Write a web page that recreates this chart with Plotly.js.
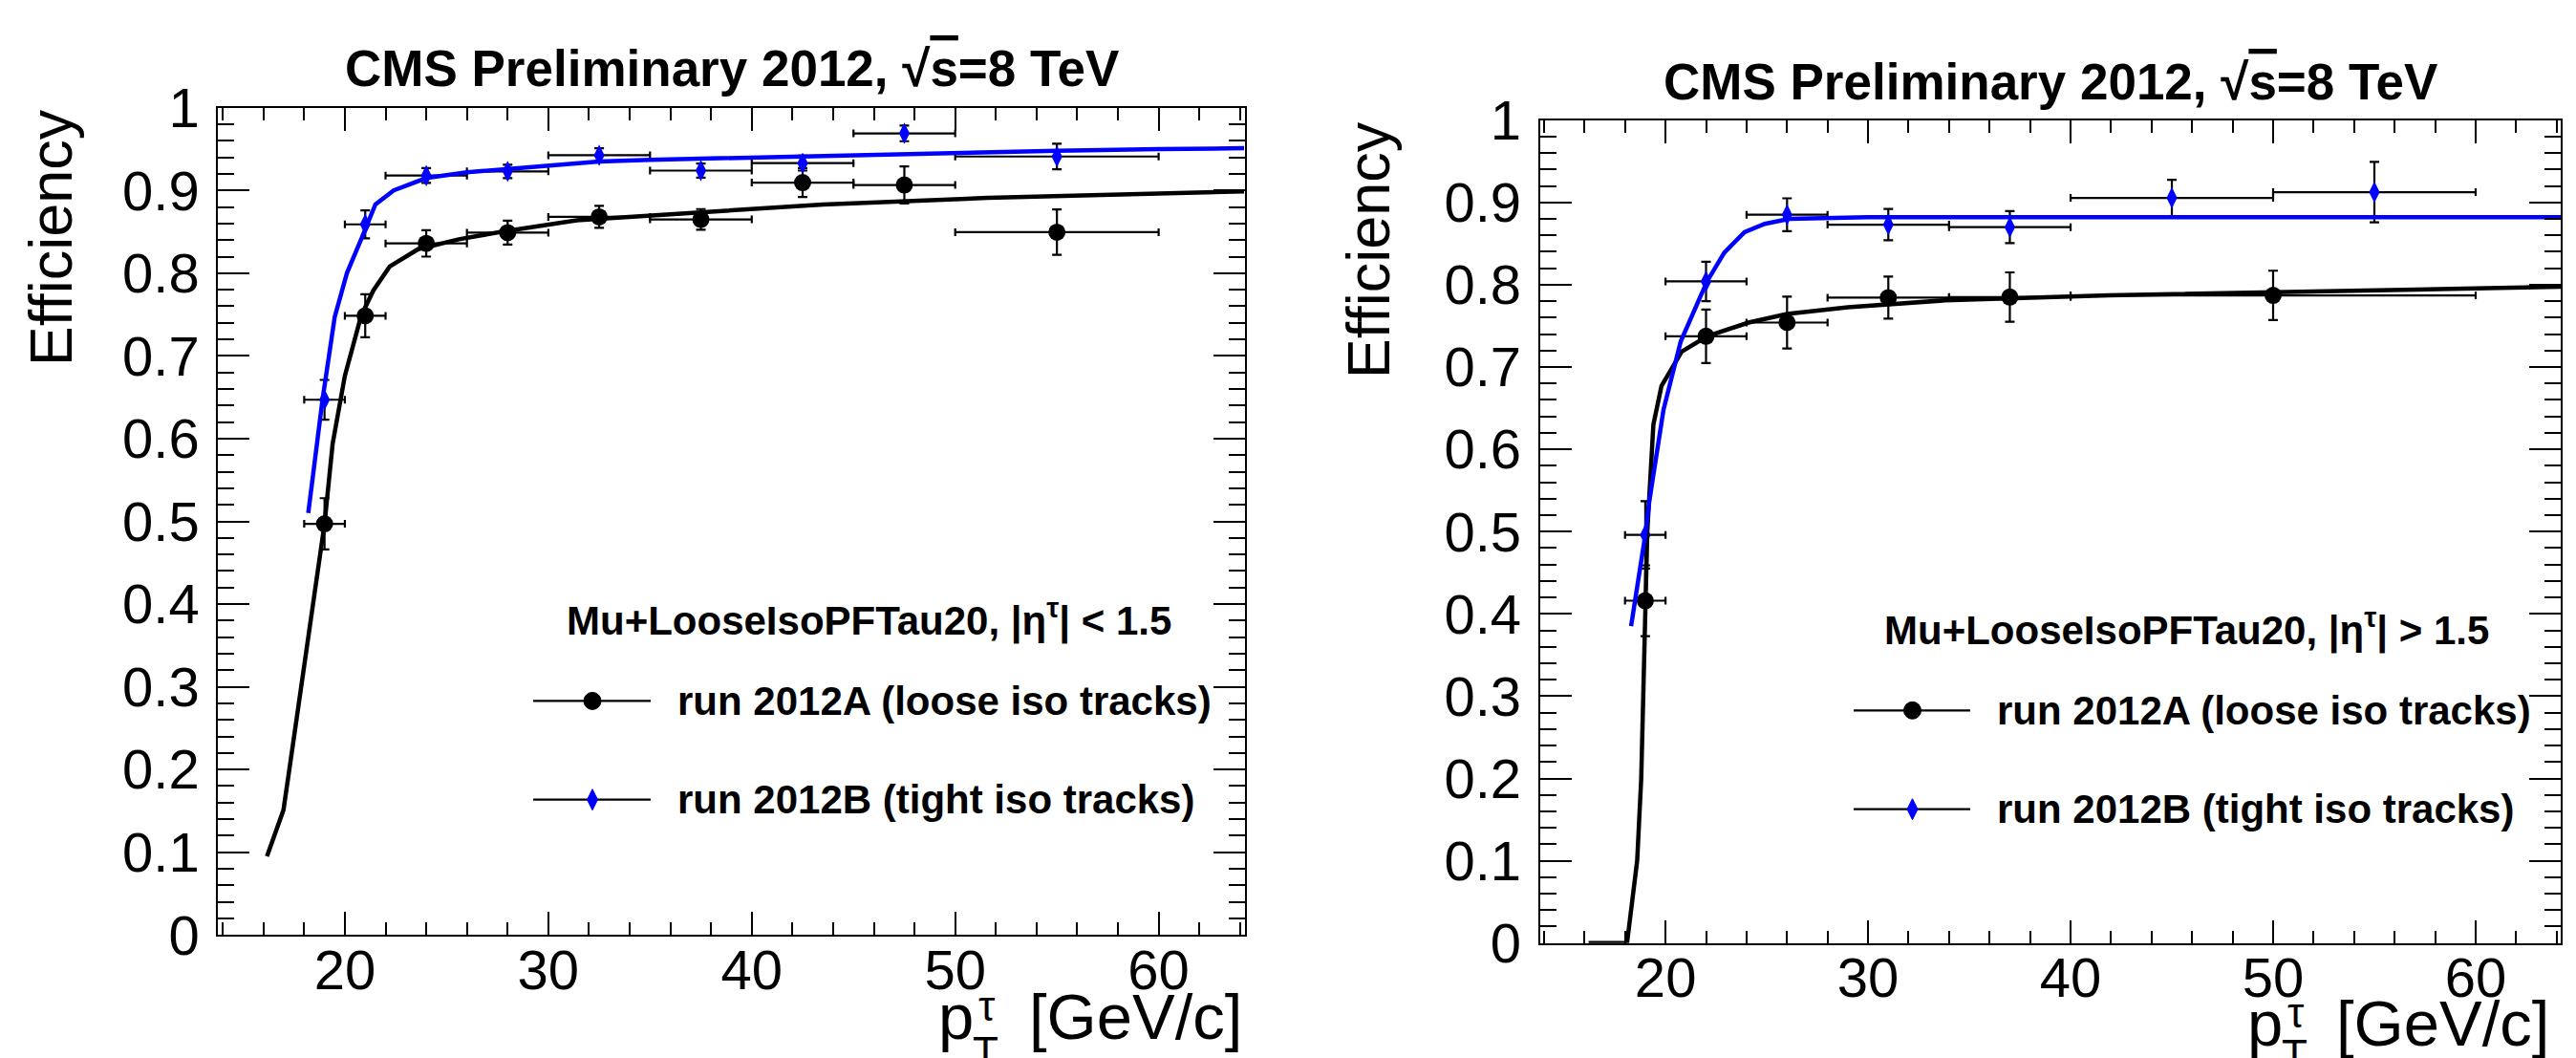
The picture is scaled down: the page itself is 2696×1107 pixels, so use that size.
<!DOCTYPE html>
<html>
<head>
<meta charset="utf-8">
<script src="https://cdn.plot.ly/plotly-3.0.1.min.js"></script>
<style>html,body{margin:0;padding:0;background:#fff;}#plot{width:2696px;height:1107px;}</style>
</head>
<body>
<div id="plot"></div>
<script>
// ---------------- DATA ----------------
// Left panel: |eta| < 1.5
const leftAx = [19, 21, 24, 28, 32.5, 37.5, 42.5, 47.5, 55];
const leftAlo = [18, 20, 22, 26, 30, 35, 40, 45, 50];
const leftAhi = [20, 22, 26, 30, 35, 40, 45, 50, 60];
const leftAeff = [0.497, 0.7485, 0.836, 0.849, 0.868, 0.865, 0.9095, 0.9066, 0.8496];
const leftAerr = [0.031, 0.026, 0.016, 0.0145, 0.0133, 0.0125, 0.0175, 0.0225, 0.0275];

const leftBx = [19, 21, 24, 28, 32.5, 37.5, 42.5, 47.5, 55];
const leftBlo = [18, 20, 22, 26, 30, 35, 40, 45, 50];
const leftBhi = [20, 22, 26, 30, 35, 40, 45, 50, 60];
const leftBeff = [0.647, 0.859, 0.918, 0.923, 0.9425, 0.924, 0.933, 0.969, 0.941];
const leftBerr = [0.024, 0.017, 0.009, 0.008, 0.0085, 0.0085, 0.009, 0.0095, 0.0155];

const leftAfitX = [16.17, 16.98, 17.27, 17.85, 18.44, 19.0, 19.4, 20.0, 20.8, 21.4, 22.2, 23.6, 25.6, 27.7, 31.4, 37.4, 43.5, 51.6, 64.2];
const leftAfitY = [0.095, 0.151, 0.20, 0.30, 0.40, 0.497, 0.594, 0.676, 0.7485, 0.779, 0.808, 0.829, 0.841, 0.85, 0.864, 0.874, 0.883, 0.891, 0.899];
const leftBfitX = [18.2, 18.9, 19.5, 20.1, 20.8, 21.5, 22.4, 24, 26, 28, 30, 32.5, 35, 40, 45, 50, 55, 60, 64.2];
const leftBfitY = [0.51, 0.647, 0.747, 0.80, 0.841, 0.883, 0.90, 0.915, 0.922, 0.926, 0.930, 0.935, 0.937, 0.940, 0.943, 0.946, 0.948, 0.950, 0.951];

// Right panel: |eta| > 1.5
const rightAx = [19, 22, 26, 31, 37, 50];
const rightAlo = [18, 20, 24, 28, 34, 40];
const rightAhi = [20, 24, 28, 34, 40, 60];
const rightAeff = [0.416, 0.7374, 0.754, 0.7843, 0.785, 0.787];
const rightAerr = [0.043, 0.0325, 0.0315, 0.0255, 0.030, 0.030];

const rightBx = [19, 22, 26, 31, 37, 45, 55];
const rightBlo = [18, 20, 24, 28, 34, 40, 50];
const rightBhi = [20, 24, 28, 34, 40, 50, 60];
const rightBeff = [0.496, 0.804, 0.885, 0.873, 0.870, 0.9055, 0.9125];
const rightBerr = [0.041, 0.024, 0.020, 0.019, 0.0195, 0.022, 0.0367];

const rightAfitX = [16.2, 18.1, 18.6, 18.8, 18.9, 19.0, 19.1, 19.4, 19.8, 20.8, 22.05, 24.1, 26, 29, 33.8, 41.9, 50.1, 64.2];
const rightAfitY = [0, 0, 0.1, 0.2, 0.3, 0.42, 0.5, 0.63, 0.677, 0.7187, 0.7374, 0.754, 0.7644, 0.7727, 0.781, 0.787, 0.7913, 0.7976];
const rightBfitX = [18.3, 19.0, 19.2, 19.9, 20.75, 22.05, 22.9, 23.9, 24.9, 26.1, 30, 40, 50, 64.2];
const rightBfitY = [0.385, 0.496, 0.537, 0.648, 0.731, 0.804, 0.839, 0.864, 0.874, 0.880, 0.882, 0.882, 0.882, 0.882];

const titleText = 'CMS Preliminary 2012, √<span style="text-decoration:overline">s</span>=8 TeV';
const yTitleText = 'Efficiency';
const legendHeaders = ['Mu+LooseIsoPFTau20, |η<sup>τ</sup>| &lt; 1.5', 'Mu+LooseIsoPFTau20, |η<sup>τ</sup>| &gt; 1.5'];
const seriesNames = ['run 2012A (loose iso tracks)', 'run 2012B (tight iso tracks)'];

// ---------------- STYLE ----------------
const W = 2696, H = 1107;
const FONT = 'Liberation Sans, Arial, Helvetica, sans-serif';
const BLUE = '#0000ff';
const px = v => v / W;
const py = v => 1 - v / H;

function errTrace(x, lo, hi, eff, err, isB, xa, ya) {
  return {
    x: x, y: eff, xaxis: xa, yaxis: ya, type: 'scatter', mode: 'markers',
    showlegend: false, hoverinfo: 'x+y',
    marker: isB ? {symbol: 'diamond-tall', size: 16, color: BLUE} : {symbol: 'circle', size: 18, color: '#000'},
    error_y: {type: 'data', array: err, color: '#000', thickness: 2.2, width: 5},
    error_x: {type: 'data', symmetric: false, array: hi.map((h, i) => h - x[i]), arrayminus: lo.map((l, i) => x[i] - l), color: '#000', thickness: 2.2, width: 4}
  };
}
function fitTrace(x, y, isB, xa, ya) {
  return {x: x, y: y, xaxis: xa, yaxis: ya, type: 'scatter', mode: 'lines', showlegend: false, hoverinfo: 'skip',
    line: {color: isB ? BLUE : '#000', width: 4.5}};
}
const data = [
  errTrace(leftAx, leftAlo, leftAhi, leftAeff, leftAerr, false, 'x', 'y'),
  errTrace(leftBx, leftBlo, leftBhi, leftBeff, leftBerr, true, 'x', 'y'),
  fitTrace(leftAfitX, leftAfitY, false, 'x', 'y'),
  fitTrace(leftBfitX, leftBfitY, true, 'x', 'y'),
  errTrace(rightAx, rightAlo, rightAhi, rightAeff, rightAerr, false, 'x2', 'y2'),
  errTrace(rightBx, rightBlo, rightBhi, rightBeff, rightBerr, true, 'x2', 'y2'),
  fitTrace(rightAfitX, rightAfitY, false, 'x2', 'y2'),
  fitTrace(rightBfitX, rightBfitY, true, 'x2', 'y2')
];

function xAxis(domain, range, anchor) {
  return {domain: domain, range: range, anchor: anchor, tick0: 0, dtick: 10,
    ticks: 'inside', ticklen: 24, tickwidth: 2, tickcolor: '#000',
    minor: {tick0: 0, dtick: 2, ticks: 'inside', ticklen: 13, tickwidth: 2, tickcolor: '#000', showgrid: false},
    showline: true, linewidth: 2, linecolor: '#000', mirror: 'allticks',
    showgrid: false, zeroline: false, ticklabelstandoff: -15,
    tickfont: {family: FONT, size: 58, color: '#000'}, fixedrange: true};
}
function yAxis(domain, anchor) {
  return {domain: domain, range: [0, 1], anchor: anchor, tick0: 0, dtick: 0.1,
    ticks: 'inside', ticklen: 33, tickwidth: 2, tickcolor: '#000',
    minor: {tick0: 0, dtick: 0.02, ticks: 'inside', ticklen: 17, tickwidth: 2, tickcolor: '#000', showgrid: false},
    showline: true, linewidth: 2, linecolor: '#000', mirror: 'allticks',
    showgrid: false, zeroline: false, ticklabelstandoff: 6,
    tickfont: {family: FONT, size: 58, color: '#000'}, fixedrange: true};
}

// panel geometry (pixels)
const panels = [
  {l: 228.3, r: 1303.3, t: 112.7, b: 978.3, range: [13.77, 64.26], titleY: 71.5, yTitleX: 53,
   xtRight: 1302, xtY: 1063, pLeft: 980, tauX: 1033, tauY: 1052, TX: 1031, TY: 1100,
   hdrX: 909.5, hdrY: 646, lineL: 558, lineR: 681, mk: 620, txtL: 707, row1: 733.4, row2: 836.7, hdr: 0},
  {l: 1611.7, r: 2680, t: 125.7, b: 986.7, range: [13.8, 64.2], titleY: 85, yTitleX: 1432,
   xtRight: 2670, xtY: 1070, pLeft: 2350, tauX: 2403, tauY: 1059, TX: 2401, TY: 1103,
   hdrX: 2288, hdrY: 656.6, lineL: 1940, lineR: 2062, mk: 2001.5, txtL: 2087.5, row1: 743.3, row2: 846.7, hdr: 1}
];

const annotations = [];
const shapes = [];
panels.forEach(p => {
  const cx = (p.l + p.r) / 2;
  annotations.push({xref: 'paper', yref: 'paper', x: px(cx), y: py(p.titleY), xanchor: 'center', yanchor: 'middle',
    text: '<b>' + titleText + '</b>', showarrow: false, font: {family: FONT, size: 53, color: '#000'}});
  annotations.push({xref: 'paper', yref: 'paper', x: px(p.yTitleX), y: py(p.t), xanchor: 'center', yanchor: 'top',
    text: yTitleText, textangle: -90, showarrow: false, font: {family: FONT, size: 63, color: '#000'}});
  annotations.push({xref: 'paper', yref: 'paper', x: px(p.xtRight), y: py(p.xtY), xanchor: 'right', yanchor: 'middle',
    text: '[GeV/c]', showarrow: false, font: {family: FONT, size: 67, color: '#000'}});
  annotations.push({xref: 'paper', yref: 'paper', x: px(p.pLeft), y: py(p.xtY), xanchor: 'left', yanchor: 'middle',
    text: 'p', showarrow: false, font: {family: FONT, size: 67, color: '#000'}});
  annotations.push({xref: 'paper', yref: 'paper', x: px(p.tauX), y: py(p.tauY), xanchor: 'center', yanchor: 'middle',
    text: 'τ', showarrow: false, font: {family: FONT, size: 44, color: '#000'}});
  annotations.push({xref: 'paper', yref: 'paper', x: px(p.TX), y: py(p.TY), xanchor: 'center', yanchor: 'middle',
    text: 'T', showarrow: false, font: {family: FONT, size: 44, color: '#000'}});
  // legend
  annotations.push({xref: 'paper', yref: 'paper', x: px(p.hdrX), y: py(p.hdrY), xanchor: 'center', yanchor: 'middle',
    text: '<b>' + legendHeaders[p.hdr] + '</b>', showarrow: false, font: {family: FONT, size: 42, color: '#000'}});
  [p.row1, p.row2].forEach((ry, i) => {
    annotations.push({xref: 'paper', yref: 'paper', x: px(p.txtL), y: py(ry), xanchor: 'left', yanchor: 'middle',
      text: '<b>' + seriesNames[i] + '</b>', showarrow: false, font: {family: FONT, size: 42, color: '#000'}});
    shapes.push({type: 'line', xref: 'paper', yref: 'paper', x0: px(p.lineL), x1: px(p.lineR), y0: py(ry), y1: py(ry),
      line: {color: '#000', width: 2.2}});
  });
  shapes.push({type: 'circle', xref: 'paper', yref: 'paper', x0: px(p.mk - 9), x1: px(p.mk + 9), y0: py(p.row1 - 9), y1: py(p.row1 + 9),
    fillcolor: '#000', line: {color: '#000', width: 1}});
  const dx = 5.5, dy = 11;
  shapes.push({type: 'path', xref: 'paper', yref: 'paper',
    path: 'M' + px(p.mk) + ',' + py(p.row2 - dy) + ' L' + px(p.mk + dx) + ',' + py(p.row2) + ' L' + px(p.mk) + ',' + py(p.row2 + dy) + ' L' + px(p.mk - dx) + ',' + py(p.row2) + ' Z',
    fillcolor: BLUE, line: {color: BLUE, width: 1}});
});

const layout = {
  width: W, height: H, margin: {l: 0, r: 0, t: 0, b: 0, pad: 0},
  paper_bgcolor: '#fff', plot_bgcolor: '#fff', showlegend: false,
  xaxis: xAxis([px(panels[0].l), px(panels[0].r)], panels[0].range, 'y'),
  yaxis: yAxis([py(panels[0].b), py(panels[0].t)], 'x'),
  xaxis2: xAxis([px(panels[1].l), px(panels[1].r)], panels[1].range, 'y2'),
  yaxis2: yAxis([py(panels[1].b), py(panels[1].t)], 'x2'),
  annotations: annotations, shapes: shapes
};

Plotly.newPlot('plot', data, layout, {staticPlot: true, displayModeBar: false});
</script>
</body>
</html>
